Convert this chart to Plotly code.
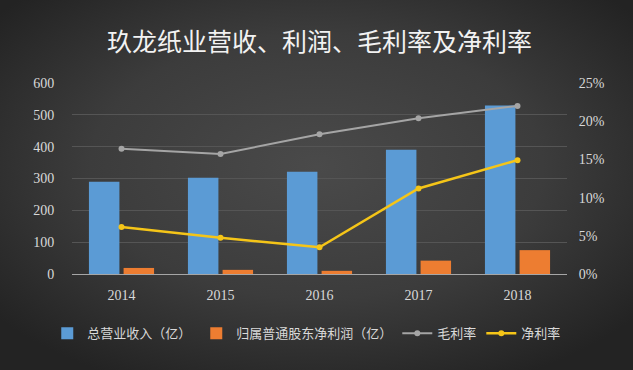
import base64
import plotly.graph_objects as go

years = ["2014", "2015", "2016", "2017", "2018"]
revenue = [290, 302, 321, 390, 529]
net_profit = [19, 13, 10, 42, 75]
gross_margin = [16.4, 15.7, 18.3, 20.4, 22.0]
net_margin = [6.15, 4.75, 3.5, 11.2, 14.9]

cjk = "Noto Sans CJK SC"
serif = "Liberation Serif"

svg = (
    '<svg xmlns="http://www.w3.org/2000/svg" width="633" height="370">'
    '<defs><radialGradient id="g" cx="50%" cy="45%" r="65%">'
    '<stop offset="0%" stop-color="#4a4a4a"/>'
    '<stop offset="55%" stop-color="#3c3c3c"/>'
    '<stop offset="100%" stop-color="#232323"/>'
    '</radialGradient></defs>'
    '<rect width="633" height="370" fill="url(#g)"/></svg>'
)
bg_src = "data:image/svg+xml;base64," + base64.b64encode(svg.encode()).decode()

fig = go.Figure()
fig.add_trace(go.Bar(x=years, y=revenue, name="总营业收入（亿）",
                     marker=dict(color="#5b9bd5", line=dict(width=0))))
fig.add_trace(go.Bar(x=years, y=net_profit, name="归属普通股东净利润（亿）",
                     marker=dict(color="#ed7d31", line=dict(width=0))))
fig.add_trace(go.Scatter(x=years, y=gross_margin, name="毛利率", yaxis="y2",
                         mode="lines+markers", line=dict(color="#a5a5a5", width=2),
                         marker=dict(size=6, color="#a5a5a5")))
fig.add_trace(go.Scatter(x=years, y=net_margin, name="净利率", yaxis="y2",
                         mode="lines+markers", line=dict(color="#f5c518", width=2.5),
                         marker=dict(size=6, color="#f5c518")))

fig.update_layout(
    width=633, height=370,
    paper_bgcolor="#3a3a3a", plot_bgcolor="rgba(0,0,0,0)",
    images=[dict(source=bg_src, xref="paper", yref="paper", x=-72/495, y=1+83/191,
                 sizex=633/495, sizey=370/191, sizing="stretch", layer="below",
                 xanchor="left", yanchor="top")],
    margin=dict(l=72, r=66, t=83, b=96, autoexpand=False),
    barmode="group", bargap=0.3, bargroupgap=0.12,
    title=dict(text="玖龙纸业营收、利润、毛利率及净利率", x=0.5, xanchor="center",
               xref="paper", y=0.885, yanchor="middle",
               font=dict(family=cjk, size=25, color="#f2f2f2")),
    xaxis=dict(showgrid=False, showline=True, linecolor="#a6a6a6", linewidth=1,
               tickfont=dict(family=serif, size=14, color="#d9d9d9"),
               ticks="outside", ticklen=8, tickcolor="rgba(0,0,0,0)"),
    yaxis=dict(range=[0, 600], dtick=100, showgrid=True, gridcolor="#555555", gridwidth=1,
               zeroline=False, showline=False,
               ticks="outside", ticklen=14, tickcolor="rgba(0,0,0,0)",
               tickfont=dict(family=serif, size=14, color="#d9d9d9")),
    yaxis2=dict(range=[0, 25], dtick=5, overlaying="y", side="right", showgrid=False,
                zeroline=False, ticksuffix="%",
                ticks="outside", ticklen=8, tickcolor="rgba(0,0,0,0)",
                tickfont=dict(family=serif, size=14, color="#d9d9d9")),
    legend=dict(orientation="h", x=-0.05, xanchor="left",
                y=-0.31, yanchor="middle",
                font=dict(family=cjk, size=13, color="#d9d9d9"),
                bgcolor="rgba(0,0,0,0)", itemwidth=30),
    showlegend=True,
)
fig.write_html("out.html")
